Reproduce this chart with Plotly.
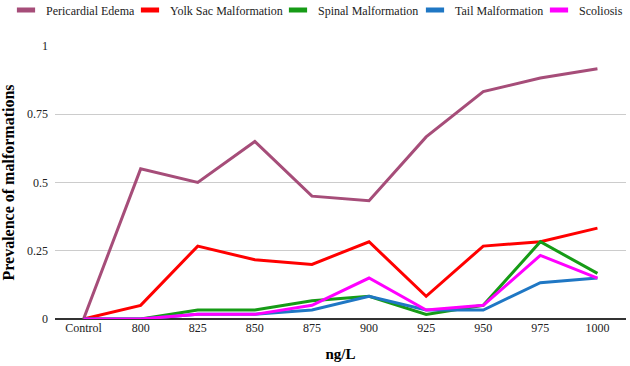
import plotly.graph_objects as go

categories = ["Control", "800", "825", "850", "875", "900", "925", "950", "975", "1000"]
pericardial_edema = [0, 0.55, 0.5, 0.65, 0.45, 0.433, 0.667, 0.833, 0.883, 0.917]
yolk_sac = [0, 0.05, 0.267, 0.217, 0.2, 0.283, 0.083, 0.267, 0.283, 0.333]
spinal = [0, 0, 0.033, 0.033, 0.067, 0.083, 0.017, 0.05, 0.283, 0.167]
tail = [0, 0, 0.017, 0.017, 0.033, 0.083, 0.033, 0.033, 0.133, 0.15]
scoliosis = [0, 0, 0.017, 0.017, 0.05, 0.15, 0.033, 0.05, 0.233, 0.15]
y_ticks = [0, 0.25, 0.5, 0.75, 1]
y_tick_labels = ["0", "0.25", "0.5", "0.75", "1"]

series = [
    ("Pericardial Edema", pericardial_edema, "#a64d79"),
    ("Yolk Sac Malformation", yolk_sac, "#ff0000"),
    ("Spinal Malformation", spinal, "#169b16"),
    ("Tail Malformation", tail, "#1f77c4"),
    ("Scoliosis", scoliosis, "#ff00ff"),
]
# legend text start positions (px from left of the figure)
legend_text_x = [46, 170, 318, 455, 579]

FONT = "Liberation Serif"
fig = go.Figure()
legend_layouts = {}
for i, (name, vals, color) in enumerate(series):
    lg = "legend" if i == 0 else f"legend{i + 1}"
    fig.add_trace(go.Scatter(x=categories, y=vals, name=name, mode="lines",
                             line=dict(color=color, width=3), showlegend=False))
    # legend-only swatch
    fig.add_trace(go.Scatter(x=[None], y=[None], name=name, mode="markers",
                             marker=dict(symbol="line-ew", size=13, color=color,
                                         line=dict(color=color, width=5)),
                             legend=lg, showlegend=True))
    legend_layouts[lg] = dict(
        orientation="h", xref="container", yref="container",
        x=(legend_text_x[i] - 40) / 630, xanchor="left",
        y=1 - 10 / 366, yanchor="middle",
        bgcolor="rgba(0,0,0,0)", borderwidth=0,
        font=dict(family=FONT, size=12, color="#222222"),
        itemwidth=30,
    )

fig.update_layout(
    width=630, height=366,
    margin=dict(l=55, r=4, t=46, b=47, autoexpand=False),
    plot_bgcolor="white", paper_bgcolor="white",
    font=dict(family=FONT, size=12, color="#222222"),
    showlegend=True,
    xaxis=dict(type="category", range=[-0.5, 9.5], showgrid=False,
               tickfont=dict(family=FONT, size=12, color="#222222"),
               ticks="", showline=False, zeroline=False, automargin=False,
               title=dict(text="<b>ng/L</b>", font=dict(family=FONT, size=15, color="#000000"),
                          standoff=14)),
    yaxis=dict(range=[0, 1], tickvals=y_ticks, ticktext=y_tick_labels,
               showgrid=True, gridcolor="#cccccc", gridwidth=1,
               zeroline=True, zerolinecolor="#333333", zerolinewidth=1.5,
               ticks="", ticklabelstandoff=6, automargin=False,
               tickfont=dict(family=FONT, size=12, color="#222222"),
               title=dict(text="<b>Prevalence of malformations</b>",
                          font=dict(family=FONT, size=16, color="#000000"), standoff=12)),
    **legend_layouts,
)

fig.write_html("out.html", config={"displayModeBar": False},
               post_script="document.body.style.margin='0';")
